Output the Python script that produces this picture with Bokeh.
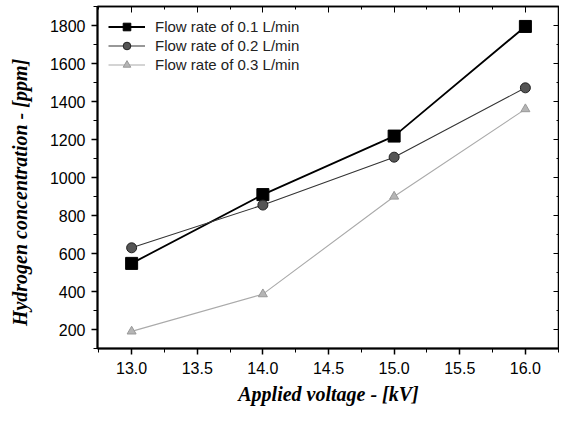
from bokeh.plotting import figure
from bokeh.models import (LinearAxis, SingleIntervalTicker, PrintfTickFormatter,
                          CustomJSTickFormatter, Range1d, Legend, LegendItem)
from bokeh.embed import file_html
from bokeh.resources import INLINE

voltage = [13.0, 14.0, 15.0, 16.0]
flow_01 = [548, 910, 1218, 1795]
flow_02 = [630, 855, 1107, 1472]
flow_03 = [190, 386, 900, 1360]
labels = ["Flow rate of 0.1 L/min", "Flow rate of 0.2 L/min", "Flow rate of 0.3 L/min"]
x_title = "Applied voltage - [kV]"
y_title = "Hydrogen concentration - [ppm]"

p = figure(width=559, height=407, output_backend="svg", toolbar_location=None,
           x_range=Range1d(12.74, 16.26), y_range=Range1d(100, 1900),
           min_border_left=97, min_border_right=0, min_border_top=6, min_border_bottom=56)
p.xgrid.visible = False
p.ygrid.visible = False
p.outline_line_color = "black"
p.outline_line_width = 1.5

tick_font = "Liberation Sans"
label_font = "Liberation Serif"

xticker = SingleIntervalTicker(interval=0.5, num_minor_ticks=2)
yticker = SingleIntervalTicker(interval=200, num_minor_ticks=2)

for ax in p.xaxis:
    ax.ticker = xticker
    ax.formatter = PrintfTickFormatter(format="%.1f")
    ax.axis_label = x_title
    ax.axis_label_text_font_size = "20px"
for ax in p.yaxis:
    ax.ticker = yticker
    ax.axis_label = y_title + "\u00a0" * 6
    ax.axis_label_text_font_size = "20px"

for ax in list(p.xaxis) + list(p.yaxis):
    ax.axis_line_width = 2
    ax.axis_line_color = "black"
    ax.major_tick_out = 6
    ax.major_tick_in = 0
    ax.minor_tick_out = 4
    ax.minor_tick_in = 0
    ax.major_tick_line_width = 1.5
    ax.major_label_text_font = tick_font
    ax.major_label_text_font_size = "16px"
    ax.major_label_text_color = "black"
    ax.axis_label_text_font = label_font
    ax.axis_label_text_font_style = "bold italic"
    ax.axis_label_text_color = "black"

p.xaxis.major_label_standoff = 7
p.xaxis.axis_label_standoff = 6
p.yaxis.major_label_standoff = 6
p.yaxis.axis_label_standoff = 16

blank = CustomJSTickFormatter(code="return '';")
# mirrored axes without labels, ticks inward
top = LinearAxis(ticker=SingleIntervalTicker(interval=0.5, num_minor_ticks=2),
                 formatter=blank, major_tick_in=6, major_tick_out=0,
                 minor_tick_in=3, minor_tick_out=0, major_label_standoff=0,
                 axis_line_width=1.5)
right = LinearAxis(ticker=SingleIntervalTicker(interval=200, num_minor_ticks=2),
                   formatter=blank, major_tick_in=6, major_tick_out=0,
                   minor_tick_in=3, minor_tick_out=0, major_label_standoff=0,
                   axis_line_width=1.5)
p.add_layout(top, "above")
p.add_layout(right, "right")

l1 = p.line(voltage, flow_01, line_color="black", line_width=1.8)
m1 = p.scatter(voltage, flow_01, marker="square", size=12, fill_color="black", line_color="black")
l2 = p.line(voltage, flow_02, line_color="#333333", line_width=1.1)
m2 = p.scatter(voltage, flow_02, marker="circle", size=10, fill_color="#555555", line_color="#222222")
l3 = p.line(voltage, flow_03, line_color="#aaaaaa", line_width=1.1)
m3 = p.scatter(voltage, flow_03, marker="triangle", size=9, fill_color="#b5b5b5", line_color="#999999")

legend = Legend(items=[LegendItem(label=labels[0], renderers=[l1, m1]),
                       LegendItem(label=labels[1], renderers=[l2, m2]),
                       LegendItem(label=labels[2], renderers=[l3, m3])],
                location="top_left", border_line_color=None, background_fill_alpha=0,
                glyph_width=37, glyph_height=19, label_height=19, spacing=0,
                label_standoff=10, padding=0, margin=11,
                label_text_font=tick_font, label_text_font_size="15px",
                label_text_color="#222222")
p.add_layout(legend)

open("out.html", "w").write(file_html(p, INLINE))
